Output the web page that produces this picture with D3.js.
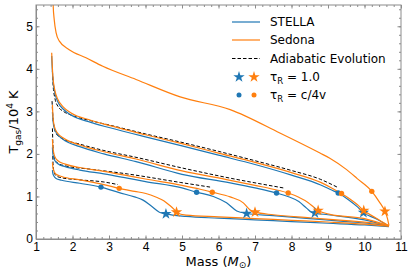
<!DOCTYPE html>
<meta charset="utf-8">
<style>
  body { margin: 0; background: #fff; }
  svg { font-family: "DejaVu Sans", sans-serif; }
  .axis path, .axis line { stroke: #8c8c8c; }
  .axis text { fill: #000; font-size: 12px; }
  .trace { fill: none; stroke-width: 1.2; }
  .adiabatic { fill: none; stroke: #000; stroke-width: 1; stroke-dasharray: 3.5,2; }
</style>
<body>
<script src="https://cdnjs.cloudflare.com/ajax/libs/d3/7.8.5/d3.min.js"></script>
<script>
// ---- data: [mass, T/1e4 K] ----
const sedonaA = [[1.46,6.0],[1.47,5.5],[1.5,5.15],[1.55,4.85],[1.64,4.65],[1.91,4.45],[2.37,4.26],[2.83,4.06],[3.74,3.75],
  [4.95,3.34],[6.32,3.04],[7.68,2.49],[8.78,2.02],[9.05,1.9],[9.51,1.63],[9.8,1.42],[10.2,1.12],[10.4,0.88],[10.56,0.65],[10.63,0.48],[10.67,0.32]];

const stellaB = [[1.43,4.3],[1.46,3.78],[1.52,3.42],[1.6,3.22],[1.75,3.05],[1.95,2.92],[2.5,2.74],[3.0,2.62],[4.0,2.4],[5.0,2.19],
  [6.0,1.97],[7.0,1.75],[8.0,1.5],[8.8,1.27],[9.1,1.15],[9.28,1.08],[9.55,0.93],[9.8,0.76],[9.97,0.62],[10.3,0.48],[10.67,0.3]];
const sedonaB = [[1.43,4.38],[1.46,3.85],[1.52,3.48],[1.6,3.28],[1.75,3.1],[1.95,2.97],[2.5,2.79],[3.0,2.67],[4.0,2.45],[5.0,2.24],
  [6.0,2.02],[7.0,1.8],[8.0,1.56],[8.8,1.33],[9.1,1.2],[9.37,1.07],[9.6,0.94],[9.8,0.81],[9.98,0.67],[10.3,0.5],[10.67,0.31]];
const adiabaticB = [[1.45,3.95],[1.47,3.6],[1.52,3.3],[1.6,3.12],[1.75,3.0],[2.0,2.9],[2.5,2.78],[3.0,2.68],[4.0,2.47],[5.0,2.27],
  [6.0,2.06],[7.0,1.84],[8.0,1.61],[8.8,1.4],[9.25,1.22]];

const stellaC = [[1.45,2.98],[1.47,2.75],[1.5,2.6],[1.57,2.48],[1.73,2.35],[2.2,2.17],[2.86,2.0],[3.74,1.82],[5.0,1.52],[6.32,1.32],
  [7.0,1.2],[7.59,1.08],[7.9,1.0],[8.2,0.88],[8.42,0.72],[8.55,0.63],[8.64,0.61],[9.0,0.57],[10.0,0.45],[10.67,0.3]];
const sedonaC = [[1.45,3.15],[1.46,2.95],[1.48,2.75],[1.52,2.6],[1.6,2.48],[1.77,2.36],[2.2,2.21],[2.86,2.05],[3.74,1.88],[5.0,1.6],
  [6.32,1.38],[7.0,1.26],[7.5,1.17],[7.91,1.08],[8.2,0.98],[8.45,0.86],[8.62,0.74],[8.73,0.67],[9.05,0.58],[10.0,0.48],[10.67,0.31]];
const adiabaticC = [[1.44,3.24],[1.46,2.9],[1.5,2.62],[1.56,2.47],[1.7,2.37],[2.2,2.23],[2.86,2.08],[3.74,1.92],[5.0,1.67],[6.32,1.43],
  [7.0,1.32],[7.78,1.2]];

const stellaD = [[1.45,2.15],[1.46,2.02],[1.48,1.92],[1.52,1.84],[1.6,1.77],[1.8,1.7],[2.2,1.62],[2.86,1.53],[3.5,1.43],[4.0,1.35],
  [5.0,1.2],[5.4,1.1],[5.86,1.0],[6.22,0.85],[6.5,0.66],[6.77,0.6],[7.5,0.55],[8.5,0.48],[9.5,0.41],[10.3,0.35],[10.67,0.3]];
const sedonaD = [[1.45,2.35],[1.46,2.2],[1.48,2.05],[1.52,1.93],[1.6,1.84],[1.8,1.76],[2.2,1.68],[2.86,1.59],[3.5,1.49],[4.0,1.41],
  [5.0,1.26],[5.5,1.17],[5.83,1.1],[6.32,0.99],[6.68,0.85],[6.86,0.69],[7.0,0.63],[7.5,0.57],[8.5,0.5],[9.5,0.43],[10.3,0.37],[10.67,0.31]];
const adiabaticD = [[1.45,2.6],[1.46,2.3],[1.48,2.0],[1.52,1.86],[1.6,1.78],[1.8,1.72],[2.5,1.64],[3.5,1.53],[4.95,1.33],[5.77,1.22]];

const stellaE = [[1.45,1.62],[1.46,1.55],[1.49,1.48],[1.55,1.42],[1.7,1.38],[2.2,1.31],[2.78,1.22],[3.28,1.09],[3.7,0.99],[3.92,0.92],
  [4.15,0.78],[4.38,0.63],[4.56,0.59],[5.11,0.53],[6,0.49],[7,0.45],[8,0.41],[9,0.37],[10,0.33],[10.67,0.29]];
const sedonaE = [[1.45,1.8],[1.46,1.7],[1.49,1.6],[1.55,1.52],[1.7,1.47],[2.2,1.39],[2.86,1.28],[3.28,1.19],[3.7,1.12],[4.01,1.07],
  [4.3,0.98],[4.5,0.9],[4.65,0.8],[4.79,0.69],[4.85,0.63],[5.11,0.56],[6,0.52],[7,0.48],[8,0.44],[9,0.4],[10,0.35],[10.67,0.3]];
const adiabaticE = [[1.46,1.95],[1.47,1.72],[1.5,1.56],[1.56,1.48],[1.7,1.44],[2.2,1.39],[2.86,1.34],[3.24,1.28]];

// tau_R = 1.0 (stars) and tau_R = c/4v (dots)
const starsStella = [[4.56,0.59],[6.77,0.6],[8.64,0.61],[9.97,0.62]];
const starsSedona = [[4.85,0.63],[7.0,0.63],[8.73,0.67],[9.98,0.67],[10.56,0.65]];
const dotsStella = [[2.78,1.22],[5.4,1.1],[7.59,1.08],[9.28,1.08]];
const dotsSedona = [[3.28,1.19],[5.83,1.1],[7.91,1.08],[9.37,1.07],[10.2,1.12]];

const xTicks = [1,2,3,4,5,6,7,8,9,10,11];
const yTicks = [0,1,2,3,4,5];
const legendLabels = ["STELLA", "Sedona", "Adiabatic Evolution"];

const blue = "#1f77b4", orange = "#ff7f0e";
const W = 415, H = 277;
const m = {left: 36, right: 14, top: 5, bottom: 38};

const svg = d3.select("body").append("svg").attr("width", W).attr("height", H);

const x = d3.scaleLinear().domain([1, 11]).range([m.left, W - m.right]);
const y = d3.scaleLinear().domain([0, 5.5]).range([H - m.bottom, m.top]);

svg.append("clipPath").attr("id", "plotclip")
  .append("rect").attr("x", m.left).attr("y", m.top)
  .attr("width", x(11) - x(1)).attr("height", y(0) - y(5.5));

const line = d3.line().x(d => x(d[0])).y(d => y(d[1])).curve(d3.curveMonotoneX);
const plot = svg.append("g").attr("clip-path", "url(#plotclip)");

// adiabatic first, then STELLA, Sedona on top
[adiabaticB, adiabaticC, adiabaticD, adiabaticE].forEach(s =>
  plot.append("path").datum(s).attr("class", "adiabatic").attr("d", line));
[stellaB, stellaC, stellaD, stellaE].forEach(s =>
  plot.append("path").datum(s).attr("class", "trace").attr("stroke", blue).attr("d", line));
[sedonaA, sedonaB, sedonaC, sedonaD, sedonaE].forEach(s =>
  plot.append("path").datum(s).attr("class", "trace").attr("stroke", orange).attr("d", line));

const star = d3.symbol().type(d3.symbolStar).size(40);
function drawStars(arr, col) {
  plot.selectAll(null).data(arr).enter().append("path")
    .attr("d", star).attr("fill", col)
    .attr("transform", d => `translate(${x(d[0])},${y(d[1])})`);
}
function drawDots(arr, col) {
  plot.selectAll(null).data(arr).enter().append("circle")
    .attr("cx", d => x(d[0])).attr("cy", d => y(d[1])).attr("r", 2.7).attr("fill", col);
}
drawDots(dotsStella, blue);
drawDots(dotsSedona, orange);
drawStars(starsStella, blue);
drawStars(starsSedona, orange);

// ---- axes, ticks inward on all four sides ----
const minorX = d3.range(1, 11.001, 0.2).map(v => +v.toFixed(1));
const minorY = d3.range(0, 5.501, 0.2).map(v => +v.toFixed(1));
function addAxis(gen, tr, vals, size, labels) {
  const g = svg.append("g").attr("class", "axis").attr("transform", tr)
    .call(gen.tickValues(vals).tickSize(-size).tickSizeOuter(0).tickPadding(3)
      .tickFormat(labels ? d3.format("d") : ""));
  if (!labels) g.select(".domain").remove();
  return g;
}
addAxis(d3.axisBottom(x), `translate(0,${y(0)})`, minorX, 2, false);
addAxis(d3.axisTop(x), `translate(0,${y(5.5)})`, minorX, 2, false);
addAxis(d3.axisLeft(y), `translate(${x(1)},0)`, minorY, 2, false);
addAxis(d3.axisRight(y), `translate(${x(11)},0)`, minorY, 2, false);
addAxis(d3.axisBottom(x), `translate(0,${y(0)})`, xTicks, 3.5, true);
addAxis(d3.axisTop(x), `translate(0,${y(5.5)})`, xTicks, 3.5, false);
addAxis(d3.axisLeft(y), `translate(${x(1)},0)`, yTicks, 3.5, true);
addAxis(d3.axisRight(y), `translate(${x(11)},0)`, yTicks, 3.5, false);
svg.append("rect").attr("x", x(1)).attr("y", y(5.5))
  .attr("width", x(11) - x(1)).attr("height", y(0) - y(5.5))
  .attr("fill", "none").attr("stroke", "#8c8c8c");

// ---- axis labels ----
const xl = svg.append("text").attr("x", (x(1) + x(11)) / 2).attr("y", 266)
  .attr("text-anchor", "middle").attr("font-size", 13);
xl.append("tspan").text("Mass (");
xl.append("tspan").attr("font-style", "italic").text("M");
xl.append("tspan").attr("font-size", 9).attr("dy", 2).text("\u2299");
xl.append("tspan").attr("dy", -2).text(")");

const yl = svg.append("text").attr("transform", `translate(18,${(y(0) + y(5.5)) / 2}) rotate(-90)`)
  .attr("text-anchor", "middle").attr("font-size", 13);
yl.append("tspan").text("T");
yl.append("tspan").attr("font-size", 9).attr("dy", 2.5).text("gas");
yl.append("tspan").attr("dy", -2.5).text("/10");
yl.append("tspan").attr("font-size", 9).attr("dy", -5).text("4");
yl.append("tspan").attr("dy", 5).text(" K");

// ---- legend ----
const lg = svg.append("g").attr("font-size", 12);
const rowY = [22, 40, 58.5, 77, 95];
const lx0 = 232, lx1 = 260, tx = 270;
lg.append("line").attr("x1", lx0).attr("x2", lx1).attr("y1", rowY[0]).attr("y2", rowY[0])
  .attr("stroke", blue).attr("stroke-width", 1.2);
lg.append("line").attr("x1", lx0).attr("x2", lx1).attr("y1", rowY[1]).attr("y2", rowY[1])
  .attr("stroke", orange).attr("stroke-width", 1.2);
lg.append("line").attr("x1", lx0).attr("x2", lx1).attr("y1", rowY[2]).attr("y2", rowY[2])
  .attr("class", "adiabatic");
lg.append("path").attr("d", star).attr("fill", blue).attr("transform", `translate(239,${rowY[3]})`);
lg.append("path").attr("d", star).attr("fill", orange).attr("transform", `translate(254,${rowY[3]})`);
lg.append("circle").attr("cx", 239).attr("cy", rowY[4]).attr("r", 2.5).attr("fill", blue);
lg.append("circle").attr("cx", 254).attr("cy", rowY[4]).attr("r", 2.5).attr("fill", orange);
legendLabels.forEach((t, i) =>
  lg.append("text").attr("x", tx).attr("y", rowY[i]).attr("dy", "0.36em").text(t));
function tauLabel(row, rhs) {
  const t = lg.append("text").attr("x", tx).attr("y", rowY[row]).attr("dy", "0.36em");
  t.append("tspan").text("\u03c4");
  t.append("tspan").attr("font-size", 8.5).attr("dy", 2.5).text("R");
  t.append("tspan").attr("dy", -2.5).text(" = " + rhs);
}
tauLabel(3, "1.0");
tauLabel(4, "c/4v");
</script>
</body>
